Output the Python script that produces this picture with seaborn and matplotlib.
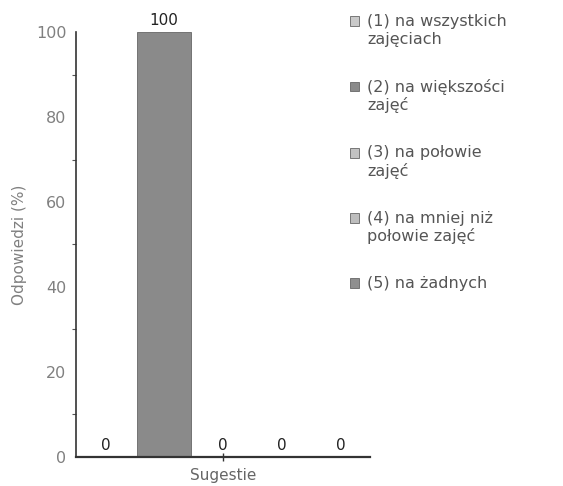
import matplotlib
matplotlib.use('Agg')
from matplotlib import pyplot as plt
from matplotlib.ticker import MultipleLocator
from matplotlib.legend_handler import HandlerPatch
from matplotlib.patches import Rectangle
import pandas as pd
import seaborn as sns

# data
category = ['Sugestie']
options = ['(1) na wszystkich\nzajęciach',
           '(2) na większości\nzajęć',
           '(3) na połowie\nzajęć',
           '(4) na mniej niż\npołowie zajęć',
           '(5) na żadnych']
values = [0, 100, 0, 0, 0]
colors = ['#c9c9c9', '#8a8a8a', '#c2c2c2', '#bdbdbd', '#8f8f8f']

df = pd.DataFrame({'kat': category * len(options), 'opcja': options, 'proc': values})

sns.set_style('white')
plt.rcParams['font.family'] = ['DejaVu Sans']

fig = plt.figure(figsize=(5.63, 4.86), dpi=100)
ax = fig.add_axes([0.135, 0.06, 0.522, 0.874])

sns.barplot(data=df, x='kat', y='proc', hue='opcja', palette=colors,
            width=1.0, gap=0.08, edgecolor='#666666', linewidth=0.6,
            legend=True, ax=ax)

for cont in ax.containers:
    ax.bar_label(cont, fmt='%d', padding=3, fontsize=11, color='#222222')

ax.set_ylim(0, 100)
ax.set_xlim(-0.5, 0.5)
ax.yaxis.set_major_locator(MultipleLocator(20))
ax.yaxis.set_minor_locator(MultipleLocator(10))
ax.tick_params(axis='y', which='major', direction='inout', length=6, width=1,
               labelsize=11.5, labelcolor='#808080', color='#333333', pad=4)
ax.tick_params(axis='y', which='minor', direction='out', length=3, width=0.8,
               color='#555555', left=True)
ax.tick_params(axis='x', direction='inout', length=6, width=1,
               labelsize=11, labelcolor='#666666', color='#333333', bottom=True, pad=5)
ax.set_xticks([0])
ax.set_xticklabels(['Sugestie'])
ax.set_xlabel('')
ax.set_ylabel('Odpowiedzi (%)', fontsize=11, color='#808080', labelpad=6)

sns.despine(ax=ax)
ax.spines['left'].set_color('#333333')
ax.spines['left'].set_linewidth(1.2)
ax.spines['bottom'].set_color('#333333')
ax.spines['bottom'].set_linewidth(1.6)

handles, labels = ax.get_legend_handles_labels()
ax.get_legend().remove()

# put the marker next to the first line of a two-line label
shift = {id(h): (7.0 if '\n' in lab else 0.0) for h, lab in zip(handles, labels)}


def top_patch(legend, orig_handle, xdescent, ydescent, width, height, fontsize):
    return Rectangle((-xdescent, -ydescent + shift.get(id(orig_handle), 0.0)),
                     width, height)


fig.legend(handles, labels, loc='upper left', bbox_to_anchor=(0.596, 1.0),
           frameon=False, fontsize=11.5, labelcolor='#555555',
           handlelength=0.55, handleheight=0.55, handletextpad=0.55,
           labelspacing=2.0,
           handler_map={h: HandlerPatch(patch_func=top_patch) for h in handles})

fig.savefig('out.png', dpi=100)
